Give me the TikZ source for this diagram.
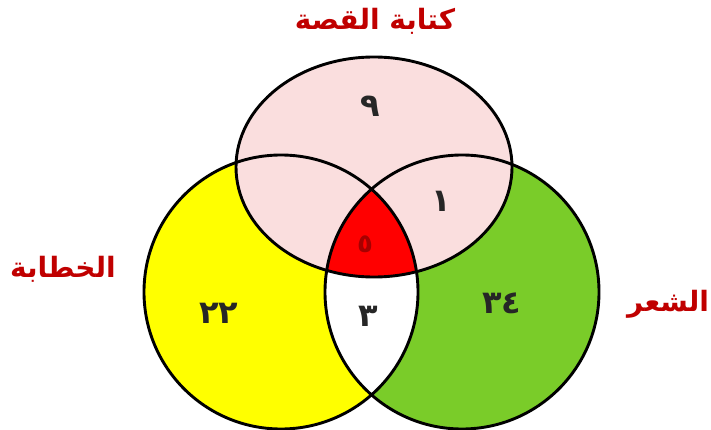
\documentclass[tikz,border=0pt]{standalone}
\usepackage{fontspec}
\newfontfamily\arabicfont[Script=Arabic]{DejaVu Sans}
\TeXXeTstate=1
\definecolor{storypink}{HTML}{FADEDE}
\definecolor{speechyellow}{HTML}{FFFF00}
\definecolor{poemgreen}{HTML}{7ACC29}
\definecolor{titlered}{HTML}{C00000}

\begin{document}
\begin{tikzpicture}[x=1pt,y=-1pt]
\useasboundingbox (0,0) rectangle (711,430);

% Fill the three sets, left and right circles first
\fill[speechyellow] (281,292) circle [radius=137];
\fill[poemgreen] (462,292) circle [radius=137];
\begin{scope}
  \clip (281,292) circle [radius=137];
  \fill[white] (462,292) circle [radius=137];
\end{scope}
\fill[storypink] (374,167) ellipse [x radius=138, y radius=110];

% The part shared by all three
\begin{scope}
  \clip (281,292) circle [radius=137];
  \clip (462,292) circle [radius=137];
  \fill[red] (374,167) ellipse [x radius=138, y radius=110];
\end{scope}

% Outlines
\tikzstyle{setline}=[draw=black,line width=2.9pt];
\draw[setline] (281,292) circle [radius=137];
\draw[setline] (462,292) circle [radius=137];
\draw[setline] (374,167) ellipse [x radius=138, y radius=110];

% Counts in each region
\tikzstyle{every node}=[font=\arabicfont\bfseries\fontsize{32}{36}\selectfont,text=black!85,anchor=center];
\foreach \x/\px/\py [count=\idx] in {٩/370/106,١/441/201,٢٢/219/313,٣/368/316,٣٤/502/303}
  \node (n\idx) at (\px,\py) {\x};
\node[text=red!65!black,font=\arabicfont\bfseries\fontsize{26}{30}\selectfont] (n6) at (365,244) {٥};

% Set names
\tikzstyle{every node}=[font=\arabicfont\bfseries\fontsize{28}{32}\selectfont,text=titlered,anchor=center];
\node (story) at (375,21) {\beginR كتابة القصة\endR};
\node (speech) at (63,269) {\beginR الخطابة\endR};
\node (poem) at (668,304) {\beginR الشعر\endR};

\end{tikzpicture}
\end{document}
